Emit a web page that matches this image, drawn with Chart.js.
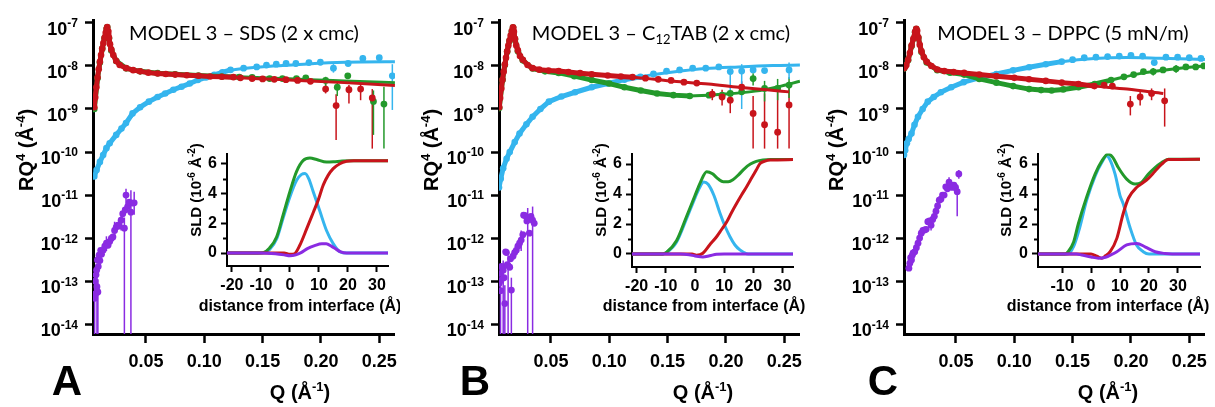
<!DOCTYPE html>
<html>
<head>
<meta charset="utf-8">
<script src="https://cdn.jsdelivr.net/npm/chart.js@4.4.1/dist/chart.umd.min.js"></script>
<style>
  html, body { margin: 0; padding: 0; background: #fff; }
  #wrap { position: relative; width: 1215px; height: 407px; overflow: hidden; }
  canvas { position: absolute; }
</style>
</head>
<body>
<div id="wrap">
  <canvas id="mainA" width="405" height="407" style="left:0;top:0"></canvas>
  <canvas id="mainB" width="405" height="407" style="left:405px;top:0"></canvas>
  <canvas id="mainC" width="405" height="407" style="left:810px;top:0"></canvas>
  <canvas id="insetA" width="220" height="180" style="left:180px;top:140px"></canvas>
  <canvas id="insetB" width="220" height="180" style="left:585px;top:140px"></canvas>
  <canvas id="insetC" width="225" height="180" style="left:990px;top:140px"></canvas>
</div>
<script>
// ---- axis ticks ----
const qTicks = [0.05, 0.10, 0.15, 0.20, 0.25];
const decades = [1e-14, 1e-13, 1e-12, 1e-11, 1e-10, 1e-9, 1e-8, 1e-7];
const sldTicks = [0, 2, 4, 6];
const sldMinor = [1, 3, 5];
const distTicksAB = [-20, -10, 0, 10, 20, 30];
const distTicksC = [-10, 0, 10, 20, 30];

// ---- panel A : SDS (Q, RQ^4) ----
const aRedBand = [[0.0057,1.1e-9],[0.0065,1.85e-9],[0.0075,3.2e-9],[0.0085,5.4e-9],[0.0095,8.4e-9],[0.0105,1.25e-8],[0.0115,1.8e-8],[0.0125,2.55e-8],[0.0135,3.4e-8],[0.0145,4.5e-8],[0.0155,5.9e-8],[0.0163,7.3e-8],[0.0168,8.0e-8],[0.0175,6.5e-8],[0.0183,4.5e-8],[0.0192,3.2e-8],[0.0203,2.4e-8],[0.0220,1.8e-8],[0.0245,1.3e-8],[0.0275,1.05e-8],[0.0330,8.9e-9],[0.0390,8.0e-9],[0.0450,7.5e-9],[0.0520,7.0e-9],[0.0600,6.7e-9],[0.0670,6.5e-9],[0.0750,6.3e-9],[0.0850,6.1e-9],[0.0950,5.9e-9],[0.1050,5.7e-9],[0.1150,5.6e-9],[0.1250,5.5e-9]];
const aRedFit = [[0.0057,1.1e-9],[0.0105,1.25e-8],[0.0140,3.9e-8],[0.0168,8.0e-8],[0.0185,4.3e-8],[0.0210,2.1e-8],[0.0250,1.25e-8],[0.035,8.7e-9],[0.05,7.1e-9],[0.07,6.4e-9],[0.10,5.8e-9],[0.13,5.3e-9],[0.16,4.9e-9],[0.19,4.5e-9],[0.22,4.1e-9],[0.2634,3.5e-9]];
const aRedDots = [[0.131,5.3e-9],[0.141,5.1e-9],[0.150,5.0e-9],[0.160,4.9e-9],[0.170,4.8e-9],[0.180,4.6e-9],[0.191,4.4e-9],[0.204,2.9e-9],[0.213,1.2e-9],[0.224,2.8e-9],[0.234,2.9e-9],[0.244,1.8e-9]];
const aRedErr = [[0.204,2.3e-9,3.9e-9],[0.213,1.9e-10,2.2e-9],[0.224,1.35e-9,3.6e-9],[0.234,1.6e-9,3.9e-9],[0.244,1.2e-10,2.9e-9]];
const aGreenBand = [[0.0057,1.0e-9],[0.0085,5.2e-9],[0.0105,1.2e-8],[0.0125,2.5e-8],[0.0145,4.4e-8],[0.0163,7.2e-8],[0.0168,7.9e-8],[0.0183,4.4e-8],[0.0203,2.3e-8],[0.0245,1.3e-8],[0.033,8.8e-9],[0.045,7.5e-9],[0.060,6.8e-9],[0.075,6.4e-9],[0.095,6.0e-9],[0.115,5.7e-9],[0.130,5.5e-9]];
const aGreenFit = [[0.0057,1.0e-9],[0.0105,1.2e-8],[0.014,3.8e-8],[0.0168,7.9e-8],[0.0185,4.3e-8],[0.021,2.1e-8],[0.025,1.25e-8],[0.035,8.7e-9],[0.05,7.2e-9],[0.07,6.5e-9],[0.10,6.0e-9],[0.13,5.6e-9],[0.16,5.2e-9],[0.19,4.8e-9],[0.22,4.5e-9],[0.2634,4.1e-9]];
const aGreenDots = [[0.141,5.4e-9],[0.156,5.1e-9],[0.167,5.1e-9],[0.179,5.1e-9],[0.187,5.3e-9],[0.204,4.6e-9],[0.214,3.2e-9],[0.223,5.9e-9],[0.245,1.5e-9],[0.254,1.3e-9]];
const aGreenErr = [[0.204,3.2e-9,5.6e-9],[0.214,2.0e-9,4.4e-9],[0.245,2.5e-10,2.7e-9],[0.254,1.2e-10,3.3e-9]];
const aBlueBand = [[0.0057,2.7e-11],[0.0077,3.8e-11],[0.0105,5.9e-11],[0.0133,8.5e-11],[0.0161,1.23e-10],[0.0189,1.6e-10],[0.0245,2.5e-10],[0.0290,3.5e-10],[0.0329,4.7e-10],[0.0385,7.9e-10],[0.0450,1.1e-9],[0.0525,1.48e-9],[0.0600,1.9e-9],[0.0665,2.3e-9],[0.0735,2.8e-9],[0.0805,3.3e-9],[0.0875,3.9e-9],[0.0945,4.7e-9],[0.1015,5.4e-9],[0.1085,6.2e-9],[0.1155,7.1e-9],[0.1225,8.1e-9]];
const aBlueFit = [[0.0057,2.7e-11],[0.0105,5.9e-11],[0.0161,1.23e-10],[0.0245,2.5e-10],[0.0329,4.7e-10],[0.0450,1.1e-9],[0.0600,1.9e-9],[0.0805,3.3e-9],[0.1015,5.4e-9],[0.1225,7.9e-9],[0.1505,9.6e-9],[0.1785,1.07e-8],[0.2065,1.18e-8],[0.2346,1.24e-8],[0.2634,1.25e-8]];
const aBlueDots = [[0.1337,8.9e-9],[0.1449,9.5e-9],[0.1533,1.05e-8],[0.1617,1.1e-8],[0.1701,1.14e-8],[0.1785,1.14e-8],[0.1897,1.2e-8],[0.1995,1.22e-8],[0.2107,8.9e-9],[0.2233,1.14e-8],[0.2359,1.5e-8],[0.2500,1.55e-8],[0.2612,5.9e-9]];
const aBlueErr = [[0.2107,7e-9,1.1e-8],[0.2359,1.2e-8,1.8e-8],[0.2612,9.5e-10,1.1e-8]];
const aPurpleDots = [[0.0060,4.0e-14],[0.0063,1.0e-13],[0.0068,5.1e-14],[0.0072,1.4e-13],[0.0077,1.8e-13],[0.0080,7.4e-14],[0.0084,3.1e-13],[0.0088,5.6e-14],[0.0091,2.2e-13],[0.0098,4.0e-13],[0.0105,3.0e-13],[0.0112,5.2e-13],[0.0119,4.2e-13],[0.0133,5.2e-13],[0.0147,6.5e-13],[0.0161,7.6e-13],[0.0175,6.8e-13],[0.0189,8.3e-13],[0.0203,9.8e-13],[0.0217,1.07e-12],[0.0231,1.5e-12],[0.0245,1.8e-12],[0.0259,2.0e-12],[0.0273,1.9e-12],[0.0287,2.6e-12],[0.0301,3.7e-12],[0.0315,1.7e-12],[0.0322,4.5e-12],[0.0329,1.0e-11],[0.0343,5.4e-12],[0.0357,6.8e-12],[0.0371,4.0e-12],[0.0385,6.5e-12],[0.0399,6.6e-12]];
const aPurpleErr = [[0.0060,1e-15,1.2e-13],[0.0080,1e-15,1.5e-13],[0.0088,1e-15,1.1e-13],[0.0161,5e-13,1.1e-12],[0.0231,9e-13,2.4e-12],[0.0287,1.5e-12,4e-12],[0.0315,1e-15,3e-12],[0.0329,6e-12,1.4e-11],[0.0371,1e-15,1.3e-11],[0.0399,3.5e-12,1.2e-11]];

// ---- panel B : C12TAB ----
const bRedBand = [[0.0057,1.1e-9],[0.0065,1.8e-9],[0.0075,3.0e-9],[0.0085,4.8e-9],[0.0095,7.3e-9],[0.0105,1.08e-8],[0.0115,1.55e-8],[0.0125,2.2e-8],[0.0135,3.0e-8],[0.0145,3.9e-8],[0.0155,5.1e-8],[0.0165,6.5e-8],[0.0175,7.9e-8],[0.0183,6.2e-8],[0.0192,4.3e-8],[0.0203,3.0e-8],[0.0217,2.3e-8],[0.0235,1.7e-8],[0.0259,1.4e-8],[0.0300,1.05e-8],[0.0343,8.9e-9],[0.0400,8.2e-9],[0.0480,7.8e-9],[0.0567,7.6e-9],[0.0650,7.2e-9],[0.0750,6.8e-9],[0.0850,6.4e-9],[0.0987,6.0e-9],[0.110,5.7e-9],[0.120,5.5e-9]];
const bRedFit = [[0.0057,1.1e-9],[0.0105,1.08e-8],[0.0145,3.9e-8],[0.0175,7.9e-8],[0.0192,4.3e-8],[0.0217,2.3e-8],[0.0259,1.4e-8],[0.0343,8.9e-9],[0.0567,7.6e-9],[0.0987,6.0e-9],[0.130,5.2e-9],[0.155,4.4e-9],[0.185,3.8e-9],[0.211,3.2e-9],[0.235,2.8e-9],[0.2541,2.5e-9]];
const bRedDots = [[0.131,5.2e-9],[0.142,4.9e-9],[0.153,4.6e-9],[0.164,4.2e-9],[0.175,4.0e-9],[0.1883,2.2e-9],[0.1967,1.9e-9],[0.2037,1.6e-9],[0.2135,3.2e-9],[0.2233,7.9e-10],[0.2331,4.3e-10],[0.2443,2.9e-10],[0.2541,1.24e-9]];
const bRedErr = [[0.1883,1.6e-9,2.9e-9],[0.1967,1.2e-9,2.8e-9],[0.2037,8e-10,2.6e-9],[0.2135,2.2e-9,4.4e-9],[0.2233,1.2e-10,2.0e-9],[0.2331,1.2e-10,2.3e-9],[0.2443,1.2e-10,2.7e-9],[0.2541,1.2e-10,4.3e-9]];
const bGreenBand = [[0.0057,1.05e-9],[0.0085,4.7e-9],[0.0105,1.05e-8],[0.0125,2.15e-8],[0.0145,3.8e-8],[0.0165,6.4e-8],[0.0175,7.8e-8],[0.0192,4.2e-8],[0.0217,2.2e-8],[0.0259,1.35e-8],[0.0343,8.7e-9],[0.0450,7.5e-9],[0.0567,6.9e-9],[0.0700,5.8e-9],[0.0850,4.7e-9],[0.1000,3.9e-9],[0.1130,3.2e-9],[0.1270,2.7e-9],[0.1410,2.3e-9],[0.155,2.1e-9],[0.169,2.0e-9]];
const bGreenFit = [[0.0057,1.05e-9],[0.0105,1.05e-8],[0.0145,3.8e-8],[0.0175,7.8e-8],[0.0192,4.2e-8],[0.0217,2.2e-8],[0.0259,1.35e-8],[0.0343,8.7e-9],[0.0567,6.9e-9],[0.085,4.7e-9],[0.113,3.2e-9],[0.141,2.3e-9],[0.169,2.0e-9],[0.197,2.2e-9],[0.225,2.6e-9],[0.245,3.3e-9],[0.2634,4.4e-9]];
const bGreenDots = [[0.1855,2.1e-9],[0.1967,2.1e-9],[0.2037,2.3e-9],[0.2135,2.5e-9],[0.2233,5.1e-9],[0.2331,3.0e-9],[0.2443,3.0e-9],[0.2541,3.6e-9]];
const bGreenErr = [[0.2233,3.5e-9,6.8e-9],[0.2331,1.5e-9,4.5e-9],[0.2443,1.6e-9,5e-9],[0.2541,1.8e-9,5.5e-9]];
const bBlueBand = [[0.0055,1.5e-11],[0.0070,2.4e-11],[0.0091,4.2e-11],[0.0120,7.0e-11],[0.0147,1.0e-10],[0.0190,1.7e-10],[0.0231,2.7e-10],[0.0290,4.4e-10],[0.0343,6.6e-10],[0.0410,1.0e-9],[0.0483,1.48e-9],[0.0590,1.95e-9],[0.0707,2.45e-9],[0.0850,3.2e-9],[0.0987,3.9e-9],[0.1130,4.8e-9],[0.1267,5.6e-9]];
const bBlueFit = [[0.0055,1.5e-11],[0.0091,4.2e-11],[0.0147,1.0e-10],[0.0231,2.7e-10],[0.0343,6.6e-10],[0.0483,1.48e-9],[0.0707,2.45e-9],[0.0987,3.9e-9],[0.1267,5.6e-9],[0.1547,7.2e-9],[0.1827,8.7e-9],[0.2107,9.5e-9],[0.2400,1.02e-8],[0.2634,1.05e-8]];
const bBlueDots = [[0.1379,6.5e-9],[0.1491,7.6e-9],[0.1603,8.1e-9],[0.1715,8.9e-9],[0.1827,8.9e-9],[0.1939,9.5e-9],[0.2037,7.4e-9],[0.2135,7.6e-9],[0.2233,8.1e-9],[0.2331,7.8e-9],[0.2541,8.1e-9]];
const bBlueErr = [[0.2037,2e-9,1e-8],[0.2135,1.0e-9,1.1e-8],[0.2541,5e-9,1.2e-8]];
const bPurpleDots = [[0.0057,8.9e-14],[0.0063,1.5e-13],[0.0068,6.0e-14],[0.0073,1.05e-13],[0.0077,2.2e-13],[0.0084,2.0e-13],[0.0091,1.8e-13],[0.0098,1.2e-13],[0.0105,3.0e-14],[0.0112,4.8e-13],[0.0119,4.6e-13],[0.0126,2.4e-13],[0.0133,2.3e-13],[0.0147,2.1e-13],[0.0154,3.3e-13],[0.0161,6.2e-14],[0.0175,3.8e-13],[0.0189,4.6e-13],[0.0203,5.2e-13],[0.0217,6.5e-13],[0.0231,7.6e-13],[0.0245,9.0e-13],[0.0259,1.2e-12],[0.0266,3.4e-12],[0.0280,3.3e-12],[0.0294,2.5e-12],[0.0308,2.9e-12],[0.0315,1.3e-12],[0.0329,3.2e-12],[0.0343,2.6e-12],[0.0357,2.2e-12]];
const bPurpleErr = [[0.0068,1e-15,1.2e-13],[0.0091,1e-15,3e-13],[0.0105,1e-15,8e-14],[0.0133,1e-15,4e-13],[0.0161,1e-15,1.2e-13],[0.0245,5e-13,1.5e-12],[0.0301,1e-15,5e-12],[0.0343,1e-15,5.4e-12]];

// ---- panel C : DPPC ----
const cRedBand = [[0.0055,8.9e-9],[0.0065,9.6e-9],[0.0075,1.05e-8],[0.0090,1.4e-8],[0.0105,2.0e-8],[0.0120,3.0e-8],[0.0135,4.3e-8],[0.0150,6.2e-8],[0.0160,7.3e-8],[0.0168,6.6e-8],[0.0178,4.6e-8],[0.0190,3.1e-8],[0.0205,2.2e-8],[0.0225,1.6e-8],[0.0250,1.25e-8],[0.0290,1.0e-8],[0.0340,8.3e-9],[0.0400,7.6e-9],[0.0480,7.2e-9],[0.0570,6.9e-9],[0.0700,6.3e-9],[0.0847,5.8e-9],[0.1000,5.3e-9],[0.1127,4.9e-9],[0.1270,4.5e-9],[0.1407,4.1e-9],[0.1550,3.8e-9],[0.1687,3.4e-9]];
const cRedFit = [[0.0055,8.9e-9],[0.0090,1.4e-8],[0.0120,3.0e-8],[0.0150,6.2e-8],[0.0160,7.3e-8],[0.0178,4.6e-8],[0.0205,2.2e-8],[0.0250,1.25e-8],[0.0340,8.3e-9],[0.0570,6.9e-9],[0.0847,5.8e-9],[0.1127,4.9e-9],[0.1407,4.1e-9],[0.1687,3.4e-9],[0.1967,2.9e-9],[0.2277,2.3e-9]];
const cRedDots = [[0.177,3.6e-9],[0.1841,3.4e-9],[0.1995,1.3e-9],[0.2079,1.9e-9],[0.2177,2.3e-9],[0.2289,1.55e-9]];
const cRedErr = [[0.1995,7.1e-10,2.0e-9],[0.2079,1.2e-9,2.6e-9],[0.2177,1.6e-9,3.0e-9],[0.2289,3.9e-10,3.0e-9]];
const cGreenBand = [[0.0055,8.7e-9],[0.0090,1.35e-8],[0.0120,2.9e-8],[0.0150,6.1e-8],[0.0160,7.2e-8],[0.0178,4.5e-8],[0.0205,2.1e-8],[0.0250,1.2e-8],[0.0340,8.0e-9],[0.0450,7.0e-9],[0.0570,6.3e-9],[0.0700,5.0e-9],[0.0847,4.1e-9],[0.0990,3.4e-9],[0.1127,2.9e-9],[0.1230,2.75e-9],[0.1320,2.7e-9],[0.1420,2.85e-9],[0.1550,3.2e-9],[0.1690,3.8e-9],[0.1830,4.7e-9]];
const cGreenFit = [[0.0055,8.7e-9],[0.0090,1.35e-8],[0.0120,2.9e-8],[0.0150,6.1e-8],[0.0160,7.2e-8],[0.0178,4.5e-8],[0.0205,2.1e-8],[0.0250,1.2e-8],[0.0340,8.0e-9],[0.0570,6.3e-9],[0.0847,4.1e-9],[0.1127,2.9e-9],[0.1320,2.7e-9],[0.1550,3.2e-9],[0.1830,4.7e-9],[0.2110,6.9e-9],[0.2390,8.7e-9],[0.2634,1.0e-8]];
const cGreenDots = [[0.1940,5.6e-9],[0.2023,6.3e-9],[0.2107,7.4e-9],[0.2191,7.4e-9],[0.2275,8.1e-9],[0.2387,8.6e-9],[0.2471,9.5e-9],[0.2555,9.5e-9],[0.2625,1.0e-8]];
const cGreenErr = [[0.2191,6e-9,9e-9],[0.2387,7e-9,1.05e-8]];
const cBlueBand = [[0.0055,8.5e-11],[0.0065,1.1e-10],[0.0080,1.6e-10],[0.0095,2.0e-10],[0.0119,2.7e-10],[0.0145,4.3e-10],[0.0175,6.6e-10],[0.0215,1.0e-9],[0.0259,1.48e-9],[0.0310,1.9e-9],[0.0371,2.45e-9],[0.0460,3.2e-9],[0.0567,4.2e-9],[0.0700,5.3e-9],[0.0847,6.5e-9],[0.0990,7.9e-9],[0.1127,9.3e-9],[0.1270,1.1e-8],[0.1407,1.26e-8]];
const cBlueFit = [[0.0055,8.5e-11],[0.0080,1.6e-10],[0.0119,2.7e-10],[0.0175,6.6e-10],[0.0259,1.48e-9],[0.0371,2.45e-9],[0.0567,4.2e-9],[0.0847,6.5e-9],[0.1127,9.3e-9],[0.1407,1.26e-8],[0.1687,1.5e-8],[0.1967,1.58e-8],[0.2247,1.52e-8],[0.2634,1.42e-8]];
const cBlueDots = [[0.150,1.4e-8],[0.160,1.55e-8],[0.170,1.6e-8],[0.180,1.65e-8],[0.190,1.7e-8],[0.200,1.75e-8],[0.210,1.7e-8],[0.2200,1.2e-8],[0.2300,1.6e-8],[0.2400,1.6e-8],[0.2500,1.55e-8],[0.2600,1.5e-8]];
const cPurpleDots = [[0.0097,2.0e-13],[0.0105,2.6e-13],[0.0112,3.5e-13],[0.0119,3.1e-13],[0.0126,4.0e-13],[0.0133,4.5e-13],[0.0147,4.8e-13],[0.0161,6.0e-13],[0.0175,7.6e-13],[0.0189,1.0e-12],[0.0203,1.3e-12],[0.0217,1.5e-12],[0.0231,1.55e-12],[0.0245,1.6e-12],[0.0259,2.4e-12],[0.0273,2.5e-12],[0.0287,2.0e-12],[0.0301,2.7e-12],[0.0315,3.2e-12],[0.0329,4.2e-12],[0.0343,5.6e-12],[0.0357,7.6e-12],[0.0371,8.0e-12],[0.0385,1.0e-11],[0.0399,1.0e-11],[0.0413,1.55e-11],[0.0427,1.4e-11],[0.0441,2.0e-11],[0.0455,1.7e-11],[0.0469,1.5e-11],[0.0483,1.7e-11],[0.0497,1.5e-11],[0.0511,1.2e-11],[0.0525,3.1e-11]];
const cPurpleErr = [[0.0287,1.5e-12,2.6e-12],[0.0441,1.4e-11,2.6e-11],[0.0511,3.2e-12,1.6e-11],[0.0525,2.4e-11,3.8e-11]];

// ---- insets : SLD profiles (distance, SLD) ----
const aSldGreen = [[-21.7,0],[-11,0],[-9.2,0.03],[-7,0.35],[-4.6,1.08],[-2.3,2.6],[0,4.15],[2.3,5.5],[4.6,6.24],[6.9,6.4],[9.2,6.3],[12.6,6.13],[15,6.15],[18,6.2],[21,6.22],[33.8,6.22]];
const aSldBlue = [[-21.7,0],[-10,0],[-7,0.25],[-4.6,0.95],[-2.3,2.4],[0,3.8],[2.3,4.9],[4,5.3],[5.2,5.36],[6.5,5.0],[8,4.15],[10.3,2.83],[12.6,1.52],[14.9,0.64],[17.2,0.09],[19.5,0],[33.8,0]];
const aSldRed = [[-21.7,0],[-2,0],[0,-0.08],[1.5,-0.05],[3.4,0.53],[5.75,1.63],[8,2.72],[9.8,3.6],[11.5,4.59],[13.2,5.25],[14.9,5.69],[17.2,6.02],[19.5,6.18],[22,6.22],[33.8,6.22]];
const aSldPurple = [[-21.7,0],[-10,0],[-5,-0.05],[-2,-0.12],[0,-0.18],[2,-0.12],[4,0.05],[6,0.3],[8.5,0.5],[11,0.63],[12.5,0.63],[14.4,0.45],[16,0.25],[17.5,0.08],[19.5,0],[33.8,0]];
const bSldGreen = [[-21.6,0],[-11,0],[-9.7,0.12],[-6.3,0.9],[-2.9,2.5],[0,3.9],[2,4.85],[4,5.49],[6,5.35],[8,5.0],[9.7,4.82],[11.4,4.82],[13,4.95],[15,5.3],[17,5.7],[19,6.0],[21,6.18],[23.3,6.27],[26,6.3],[33.6,6.3]];
const bSldBlue = [[-21.6,0],[-11,0],[-9.7,0.1],[-6.3,0.8],[-2.9,2.35],[0,3.75],[1.5,4.4],[3,4.8],[4.5,4.65],[6.5,3.9],[8.6,2.7],[10.3,1.85],[12,1.15],[13.7,0.6],[15.4,0.27],[17.7,0.02],[19,0],[33.6,0]];
const bSldRed = [[-21.6,0],[-1,0],[0.5,-0.08],[2.7,0.05],[5,0.6],[7.4,1.15],[9,1.6],[10.9,2.15],[12.5,2.75],[14.3,3.38],[16,3.95],[17.7,4.49],[19.5,5.1],[21,5.6],[22.3,6.04],[24,6.2],[25.7,6.27],[33.6,6.3]];
const bSldPurple = [[-21.6,0],[-5,0],[-2,-0.05],[0,-0.13],[2.7,-0.2],[5,-0.12],[7.4,-0.02],[10,0],[33.6,0]];
const cSldGreen = [[-18.3,0],[-9,0],[-7.9,0.15],[-6,0.8],[-4.4,2.0],[-1.5,3.8],[1.4,5.33],[3.7,6.2],[5.9,6.67],[7.5,6.45],[9.4,5.77],[12.3,5.0],[15.2,4.67],[17.2,4.75],[19.8,5.33],[22,5.75],[24.4,6.1],[26.7,6.33],[37.6,6.33]];
const cSldBlue = [[-18.3,0],[-8,0],[-6,0.5],[-4,1.7],[-1.5,3.6],[1.4,5.2],[3.7,6.1],[5.4,6.55],[6.5,6.3],[8.3,5.33],[10,3.9],[11.1,3.35],[13.4,1.8],[15.7,0.6],[18,0.15],[20,0],[37.6,0]];
const cSldRed = [[-18.3,0],[0,0],[2,-0.15],[3.7,-0.28],[5,-0.12],[6.6,0.15],[8.9,1.04],[11.1,2.7],[12.9,3.72],[15.8,4.45],[17.4,4.68],[19.8,5.05],[22,5.5],[24.4,6.0],[26.7,6.3],[37.6,6.33]];
const cSldPurple = [[-18.3,0],[-5,0],[-3.2,-0.07],[0,-0.2],[2.5,-0.28],[5,-0.22],[7,-0.05],[8.9,0.15],[12.3,0.6],[15.8,0.7],[18.6,0.48],[22.1,0.15],[25.5,0.03],[28,0],[37.6,0]];

// ---- style ----
const RED = '#c8141b', GREEN = '#23992b', BLUE = '#35b5ee', PURPLE = '#8a2be2';
const FONT = '"Liberation Sans", Arial, sans-serif';
const Y_MIN = 5.9e-15, Y_MAX = 1.17e-7, Q_MAX = 0.2634;
Chart.defaults.font.family = FONT;
Chart.defaults.color = '#000';

const xy = a => a.map(p => ({ x: p[0], y: p[1] }));

// text with super/subscripts: parts = [[text, 0|1|-1]]
function rich(ctx, parts, x, y, f, align) {
  const fam = f.family || FONT, wt = f.weight || 'bold';
  const fs = m => wt + ' ' + (m ? Math.round(f.size * 0.64) : f.size) + 'px ' + fam;
  let w = 0;
  for (const [t, m] of parts) { ctx.font = fs(m); w += ctx.measureText(t).width; }
  let cx = align === 'center' ? x - w / 2 : align === 'right' ? x - w : x;
  ctx.textAlign = 'left';
  ctx.textBaseline = 'alphabetic';
  for (const [t, m] of parts) {
    ctx.font = fs(m);
    ctx.fillText(t, cx, y + (m === 1 ? -f.size * 0.42 : m === -1 ? f.size * 0.2 : 0));
    cx += ctx.measureText(t).width;
  }
}

function errPlugin(list) {
  return {
    id: 'errbars',
    beforeDatasetsDraw(chart) {
      const { ctx, chartArea: a, scales: { x, y } } = chart;
      ctx.save();
      ctx.beginPath();
      ctx.rect(a.left, a.top, a.right - a.left, a.bottom - a.top);
      ctx.clip();
      ctx.lineWidth = 1.5;
      list.forEach(([arr, color]) => {
        ctx.strokeStyle = color;
        arr.forEach(([q, lo, hi]) => {
          const px = x.getPixelForValue(q);
          ctx.beginPath();
          ctx.moveTo(px, y.getPixelForValue(lo));
          ctx.lineTo(px, y.getPixelForValue(hi));
          ctx.stroke();
        });
      });
      ctx.restore();
    }
  };
}

function mainDeco(p) {
  return {
    id: 'deco',
    afterDraw(chart) {
      const ctx = chart.ctx, ys = chart.scales.y, left = chart.chartArea.left;
      ctx.save();
      ctx.fillStyle = '#000';
      decades.forEach(v => {
        const py = ys.getPixelForValue(v);
        rich(ctx, [['10', 0], [String(Math.round(Math.log10(v))), 1]], left - 15, py + 12, { size: 18 }, 'right');
      });
      rich(ctx, p.title, p.titleX, 40, { size: 20, weight: 'normal', family: '"Lato", "Open Sans", sans-serif' }, 'center');
      ctx.font = 'bold 42px ' + FONT;
      ctx.textAlign = 'center';
      ctx.fillText(p.letter, p.letterX, 395);
      rich(ctx, [['Q (Å', 0], ['-1', 1], [')', 0]], p.xTitleX, 399, { size: 20 }, 'center');
      ctx.translate(27, 150);
      ctx.rotate(-Math.PI / 2);
      rich(ctx, [['RQ', 0], ['4', 1], [' (Å', 0], ['-4', 1], [')', 0]], 0, 6, { size: 20 }, 'center');
      ctx.restore();
    }
  };
}

function makeMain(id, p) {
  const datasets = [];
  p.series.forEach(([fit, dots, band, color]) => {
    if (fit) datasets.push({ data: xy(fit), showLine: true, borderColor: color, borderWidth: 3, pointRadius: 0, cubicInterpolationMode: 'monotone' });
    if (dots) datasets.push({ data: xy(dots), showLine: false, pointRadius: 3.4, pointBackgroundColor: color, pointBorderWidth: 0 });
    if (band) datasets.push({ data: xy(band), showLine: true, borderColor: color, borderWidth: 5, borderJoinStyle: 'round', borderCapStyle: 'round', pointRadius: 3.3, pointBackgroundColor: color, pointBorderWidth: 0 });
  });
  const axisGrid = len => ({ drawOnChartArea: false, drawTicks: true, tickLength: len, tickWidth: 2.5, tickColor: '#000' });
  new Chart(document.getElementById(id), {
    type: 'scatter',
    data: { datasets },
    options: {
      responsive: false,
      animation: false,
      events: [],
      layout: { padding: { top: 20, right: 4, left: 0, bottom: 0 } },
      plugins: { legend: { display: false }, tooltip: { enabled: false } },
      scales: {
        x: {
          type: 'linear', min: p.xMin, max: Q_MAX,
          afterFit: s => { s.height = 73; },
          afterBuildTicks: s => { s.ticks = qTicks.map(v => ({ value: v })); },
          grid: axisGrid(9),
          border: { display: true, color: '#000', width: 3 },
          ticks: { color: '#000', padding: 8, maxRotation: 0, font: { size: 18, weight: 'bold' }, callback: v => v.toFixed(2) }
        },
        y: {
          type: 'logarithmic', min: Y_MIN, max: Y_MAX,
          afterFit: s => { s.width = p.axisLeft; },
          afterBuildTicks: s => { s.ticks = decades.map(v => ({ value: v })); },
          grid: axisGrid(8),
          border: { display: true, color: '#000', width: 3 },
          ticks: { display: false }
        }
      }
    },
    plugins: [errPlugin(p.errs), mainDeco(p)]
  });
}

function insetDeco(p) {
  return {
    id: 'insetDeco',
    afterDraw(chart) {
      const ctx = chart.ctx, ys = chart.scales.y, left = chart.chartArea.left;
      ctx.save();
      ctx.strokeStyle = '#000';
      ctx.lineWidth = 2;
      sldMinor.forEach(v => {
        const py = Math.round(ys.getPixelForValue(v)) + 0.5;
        ctx.beginPath();
        ctx.moveTo(left - 4, py);
        ctx.lineTo(left, py);
        ctx.stroke();
      });
      ctx.fillStyle = '#000';
      rich(ctx, [['distance from interface (Å)', 0]], p.xTitleX, 171, { size: 16 }, 'center');
      ctx.translate(p.yTitleX, 50);
      ctx.rotate(-Math.PI / 2);
      rich(ctx, [['SLD (10', 0], ['-6', 1], [' Å', 0], ['-2', 1], [')', 0]], 0, 0, { size: 15 }, 'center');
      ctx.restore();
    }
  };
}

function makeInset(id, p) {
  const datasets = p.curves.map(([arr, color]) => ({
    data: xy(arr), showLine: true, borderColor: color, borderWidth: 3, pointRadius: 0, cubicInterpolationMode: 'monotone'
  }));
  const g = { drawOnChartArea: false, drawTicks: true, tickLength: 6, tickWidth: 2, tickColor: '#000' };
  new Chart(document.getElementById(id), {
    type: 'scatter',
    data: { datasets },
    options: {
      responsive: false,
      animation: false,
      events: [],
      layout: { padding: { top: p.top, right: p.padRight, left: 0, bottom: 0 } },
      plugins: { legend: { display: false }, tooltip: { enabled: false } },
      scales: {
        x: {
          type: 'linear', min: p.xMin, max: p.xMax,
          afterFit: s => { s.height = p.xH; },
          afterBuildTicks: s => { s.ticks = p.xTicks.map(v => ({ value: v })); },
          grid: g,
          border: { display: true, color: '#000', width: 2 },
          ticks: { color: '#000', padding: 4, maxRotation: 0, font: { size: 16, weight: 'bold' } }
        },
        y: {
          type: 'linear', min: -0.87, max: 6.7,
          afterFit: s => { s.width = p.yW; },
          afterBuildTicks: s => { s.ticks = sldTicks.map(v => ({ value: v })); },
          grid: g,
          border: { display: true, color: '#000', width: 2 },
          ticks: { color: '#000', padding: 4, font: { size: 16, weight: 'bold' } }
        }
      }
    },
    plugins: [insetDeco(p)]
  });
}

makeMain('mainA', {
  xMin: 0.0046, axisLeft: 93,
  title: [['MODEL 3 – SDS (2 x cmc)', 0]], titleX: 244, letter: 'A', letterX: 67, xTitleX: 300,
  series: [[aRedFit, aRedDots, aRedBand, RED], [aGreenFit, aGreenDots, aGreenBand, GREEN], [aBlueFit, aBlueDots, aBlueBand, BLUE], [null, aPurpleDots, null, PURPLE]],
  errs: [[aRedErr, RED], [aGreenErr, GREEN], [aBlueErr, BLUE], [aPurpleErr, PURPLE]]
});
makeMain('mainB', {
  xMin: 0.0055, axisLeft: 94,
  title: [['MODEL 3 – C', 0], ['12', -1], ['TAB (2 x cmc)', 0]], titleX: 256, letter: 'B', letterX: 70, xTitleX: 298,
  series: [[bRedFit, bRedDots, bRedBand, RED], [bGreenFit, bGreenDots, bGreenBand, GREEN], [bBlueFit, bBlueDots, bBlueBand, BLUE], [null, bPurpleDots, null, PURPLE]],
  errs: [[bRedErr, RED], [bGreenErr, GREEN], [bBlueErr, BLUE], [bPurpleErr, PURPLE]]
});
makeMain('mainC', {
  xMin: 0.0055, axisLeft: 94,
  title: [['MODEL 3 – DPPC (5 mN/m)', 0]], titleX: 253, letter: 'C', letterX: 73, xTitleX: 298,
  series: [[cRedFit, cRedDots, cRedBand, RED], [cGreenFit, cGreenDots, cGreenBand, GREEN], [cBlueFit, cBlueDots, cBlueBand, BLUE], [null, cPurpleDots, null, PURPLE]],
  errs: [[cRedErr, RED], [cGreenErr, GREEN], [cPurpleErr, PURPLE]]
});

makeInset('insetA', {
  xMin: -21.7, xMax: 33.8, xTicks: distTicksAB, top: 12, padRight: 12, xH: 54, yW: 47, xTitleX: 120, yTitleX: 21,
  curves: [[aSldPurple, PURPLE], [aSldRed, RED], [aSldGreen, GREEN], [aSldBlue, BLUE]]
});
makeInset('insetB', {
  xMin: -21.6, xMax: 33.6, xTicks: distTicksAB, top: 13, padRight: 12, xH: 53, yW: 47, xTitleX: 119, yTitleX: 21,
  curves: [[bSldPurple, PURPLE], [bSldRed, RED], [bSldGreen, GREEN], [bSldBlue, BLUE]]
});
makeInset('insetC', {
  xMin: -18.3, xMax: 37.6, xTicks: distTicksC, top: 13, padRight: 15, xH: 53, yW: 48, xTitleX: 118, yTitleX: 21,
  curves: [[cSldPurple, PURPLE], [cSldRed, RED], [cSldGreen, GREEN], [cSldBlue, BLUE]]
});
</script>
</body>
</html>
